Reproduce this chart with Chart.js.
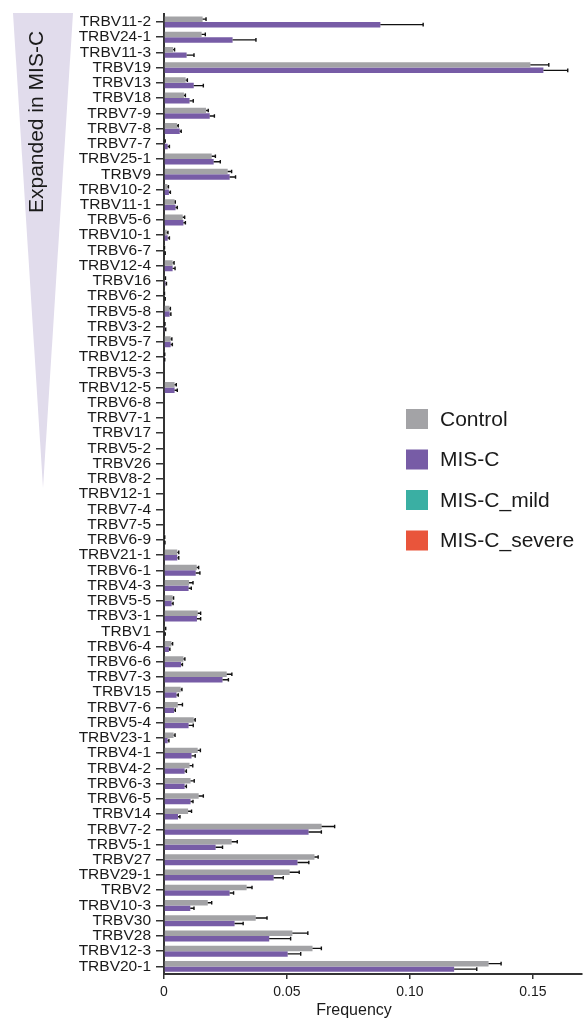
<!DOCTYPE html>
<html>
<head>
<meta charset="utf-8">
<script src="https://cdn.jsdelivr.net/npm/chart.js@4.4.1/dist/chart.umd.min.js"></script>
<style>
    html, body { margin: 0; padding: 0; background: #fff; }
</style>
</head>
<body>
<canvas id="grafico1" width="583" height="1019"></canvas>
<script>
// Genes TRBV, ordenados como en la figura
const genes = [
    'TRBV11-2', 'TRBV24-1', 'TRBV11-3', 'TRBV19', 'TRBV13', 'TRBV18', 'TRBV7-9', 'TRBV7-8',
    'TRBV7-7', 'TRBV25-1', 'TRBV9', 'TRBV10-2', 'TRBV11-1', 'TRBV5-6', 'TRBV10-1', 'TRBV6-7',
    'TRBV12-4', 'TRBV16', 'TRBV6-2', 'TRBV5-8', 'TRBV3-2', 'TRBV5-7', 'TRBV12-2', 'TRBV5-3',
    'TRBV12-5', 'TRBV6-8', 'TRBV7-1', 'TRBV17', 'TRBV5-2', 'TRBV26', 'TRBV8-2', 'TRBV12-1',
    'TRBV7-4', 'TRBV7-5', 'TRBV6-9', 'TRBV21-1', 'TRBV6-1', 'TRBV4-3', 'TRBV5-5', 'TRBV3-1',
    'TRBV1', 'TRBV6-4', 'TRBV6-6', 'TRBV7-3', 'TRBV15', 'TRBV7-6', 'TRBV5-4', 'TRBV23-1',
    'TRBV4-1', 'TRBV4-2', 'TRBV6-3', 'TRBV6-5', 'TRBV14', 'TRBV7-2', 'TRBV5-1', 'TRBV27',
    'TRBV29-1', 'TRBV2', 'TRBV10-3', 'TRBV30', 'TRBV28', 'TRBV12-3', 'TRBV20-1'
];

// Frecuencia media y error (SEM) por grupo
const controlMean = [
    0.0157, 0.0153, 0.0037, 0.1490, 0.0088, 0.0081, 0.0171, 0.0053,
    0.0003, 0.0194, 0.0259, 0.0014, 0.0043, 0.0076, 0.0011, 0.0001,
    0.0035, 0.0004, 0.0001, 0.0022, 0.0003, 0.0027, 0.0002, 0,
    0.0043, 0, 0, 0, 0, 0, 0, 0,
    0, 0, 0.0002, 0.0054, 0.0133, 0.0102, 0.0035, 0.0137,
    0.0004, 0.0030, 0.0079, 0.0255, 0.0068, 0.0056, 0.0121, 0.0039,
    0.0137, 0.0104, 0.0108, 0.0141, 0.0098, 0.0641, 0.0275, 0.0612,
    0.0511, 0.0336, 0.0178, 0.0373, 0.0522, 0.0604, 0.1320
];
const controlErr = [
    0.0014, 0.0015, 0.0006, 0.0075, 0.0007, 0.0006, 0.0009, 0.0005,
    0.0002, 0.0015, 0.0016, 0.0004, 0.0003, 0.0008, 0.0005, 0.0001,
    0.0006, 0.0002, 0.0001, 0.0004, 0.0001, 0.0005, 0.0001, 0,
    0.0007, 0, 0, 0, 0, 0, 0, 0,
    0, 0, 0.0001, 0.0006, 0.0008, 0.0016, 0.0004, 0.0012,
    0.0003, 0.0005, 0.0006, 0.0021, 0.0005, 0.0019, 0.0006, 0.0006,
    0.0011, 0.0013, 0.0015, 0.0019, 0.0014, 0.0053, 0.0023, 0.0015,
    0.0039, 0.0022, 0.0016, 0.0046, 0.0063, 0.0036, 0.0051
];
const miscMean = [
    0.0880, 0.0279, 0.0092, 0.1543, 0.0121, 0.0104, 0.0186, 0.0064,
    0.0015, 0.0202, 0.0267, 0.0020, 0.0047, 0.0079, 0.0015, 0.0003,
    0.0035, 0.0006, 0.0003, 0.0023, 0.0004, 0.0027, 0.0002, 0,
    0.0043, 0, 0, 0, 0, 0, 0, 0,
    0, 0, 0.0003, 0.0054, 0.0129, 0.0100, 0.0031, 0.0134,
    0.0003, 0.0020, 0.0069, 0.0238, 0.0051, 0.0041, 0.0100, 0.0015,
    0.0112, 0.0084, 0.0084, 0.0108, 0.0057, 0.0588, 0.0210, 0.0543,
    0.0446, 0.0267, 0.0107, 0.0287, 0.0428, 0.0503, 0.1180
];
const miscErr = [
    0.0174, 0.0095, 0.0030, 0.0099, 0.0039, 0.0015, 0.0019, 0.0006,
    0.0007, 0.0027, 0.0024, 0.0006, 0.0007, 0.0008, 0.0007, 0.0002,
    0.0010, 0.0004, 0.0002, 0.0005, 0.0003, 0.0007, 0.0001, 0,
    0.0011, 0, 0, 0, 0, 0, 0, 0,
    0, 0, 0.0001, 0.0006, 0.0017, 0.0011, 0.0006, 0.0015,
    0.0002, 0.0004, 0.0006, 0.0024, 0.0007, 0.0005, 0.0019, 0.0005,
    0.0015, 0.0007, 0.0007, 0.0010, 0.0008, 0.0052, 0.0028, 0.0046,
    0.0039, 0.0016, 0.0015, 0.0035, 0.0087, 0.0053, 0.0092
];

const xTicks = [0, 0.05, 0.10, 0.15];
const groupLabels = ['Control', 'MIS-C', 'MIS-C_mild', 'MIS-C_severe'];
const groupColors = ['#a3a3a6', '#775ca6', '#3aafa3', '#e9553b'];

const FONT = "'Liberation Sans', Arial, Helvetica, sans-serif";
const INK = '#1a1a1a';

// Triángulo "Expanded in MIS-C" a la izquierda
const trianglePlugin = {
    id: 'triangle',
    beforeDraw(chart) {
        const ctx = chart.ctx;
        ctx.save();
        ctx.fillStyle = '#e1dcec';
        ctx.beginPath();
        ctx.moveTo(13, 13);
        ctx.lineTo(73, 13);
        ctx.lineTo(43, 488);
        ctx.closePath();
        ctx.fill();

        ctx.translate(43, 122);
        ctx.rotate(-Math.PI / 2);
        ctx.fillStyle = INK;
        ctx.font = '21px ' + FONT;
        ctx.textAlign = 'center';
        ctx.textBaseline = 'alphabetic';
        ctx.fillText('Expanded in MIS-C', 0, 0);
        ctx.restore();
    }
};

// Barras de error (solo hacia la derecha)
const errorBarPlugin = {
    id: 'errorBars',
    afterDatasetsDraw(chart) {
        const ctx = chart.ctx;
        const xScale = chart.scales.x;
        ctx.save();
        ctx.strokeStyle = '#111';
        ctx.lineWidth = 1.4;
        chart.data.datasets.forEach((ds, di) => {
            if (!ds.errors) return;
            const meta = chart.getDatasetMeta(di);
            meta.data.forEach((bar, i) => {
                const err = ds.errors[i];
                if (!err) return;
                const xEnd = xScale.getPixelForValue(ds.data[i] + err);
                ctx.beginPath();
                ctx.moveTo(bar.x, bar.y);
                ctx.lineTo(xEnd, bar.y);
                ctx.moveTo(xEnd, bar.y - 1.8);
                ctx.lineTo(xEnd, bar.y + 1.8);
                ctx.stroke();
            });
        });
        ctx.restore();
    }
};

// Leyenda y título del eje X dibujados a mano
const legendPlugin = {
    id: 'customLegend',
    afterDraw(chart) {
        const ctx = chart.ctx;
        ctx.save();
        chart.data.datasets.forEach((ds, i) => {
            const top = 409 + i * 40.5;
            ctx.fillStyle = ds.backgroundColor;
            ctx.fillRect(406, top, 22, 20);
            ctx.fillStyle = INK;
            ctx.font = '21px ' + FONT;
            ctx.textAlign = 'left';
            ctx.textBaseline = 'middle';
            ctx.fillText(ds.label, 440, top + 11);
        });
        ctx.font = '16px ' + FONT;
        ctx.textAlign = 'center';
        ctx.textBaseline = 'alphabetic';
        ctx.fillText('Frequency', 354, 1015);
        ctx.restore();
    }
};

const ctx = document.getElementById('grafico1').getContext('2d');

new Chart(ctx, {
    type: 'bar',
    data: {
        labels: genes,
        datasets: [
            { label: groupLabels[0], data: controlMean, errors: controlErr, backgroundColor: groupColors[0] },
            { label: groupLabels[1], data: miscMean, errors: miscErr, backgroundColor: groupColors[1] },
            { label: groupLabels[2], data: [], backgroundColor: groupColors[2], grouped: false },
            { label: groupLabels[3], data: [], backgroundColor: groupColors[3], grouped: false }
        ]
    },
    options: {
        indexAxis: 'y',
        responsive: false,
        animation: false,
        categoryPercentage: 0.72,
        barPercentage: 1.0,
        layout: { padding: { top: 12, right: 1, bottom: 0, left: 0 } },
        plugins: {
            legend: { display: false },
            tooltip: { enabled: false }
        },
        scales: {
            x: {
                min: 0,
                max: 0.17,
                afterFit: (scale) => { scale.height = 45; },
                afterBuildTicks: (scale) => { scale.ticks = xTicks.map(v => ({ value: v })); },
                ticks: {
                    callback: (v) => v === 0 ? '0' : v.toFixed(2),
                    font: { family: FONT, size: 14 },
                    color: INK,
                    padding: 5,
                    maxRotation: 0
                },
                grid: { drawOnChartArea: false, tickLength: 5, color: '#333', lineWidth: 1.5 },
                border: { color: '#333', width: 2 }
            },
            y: {
                afterFit: (scale) => { scale.width = 164; },
                ticks: {
                    font: { family: FONT, size: 15.5 },
                    color: INK,
                    padding: 5,
                    autoSkip: false
                },
                grid: { offset: false, drawOnChartArea: false, tickLength: 8, color: '#333', lineWidth: 1.5 },
                border: { color: '#333', width: 2 }
            }
        }
    },
    plugins: [trianglePlugin, errorBarPlugin, legendPlugin]
});
</script>
</body>
</html>
